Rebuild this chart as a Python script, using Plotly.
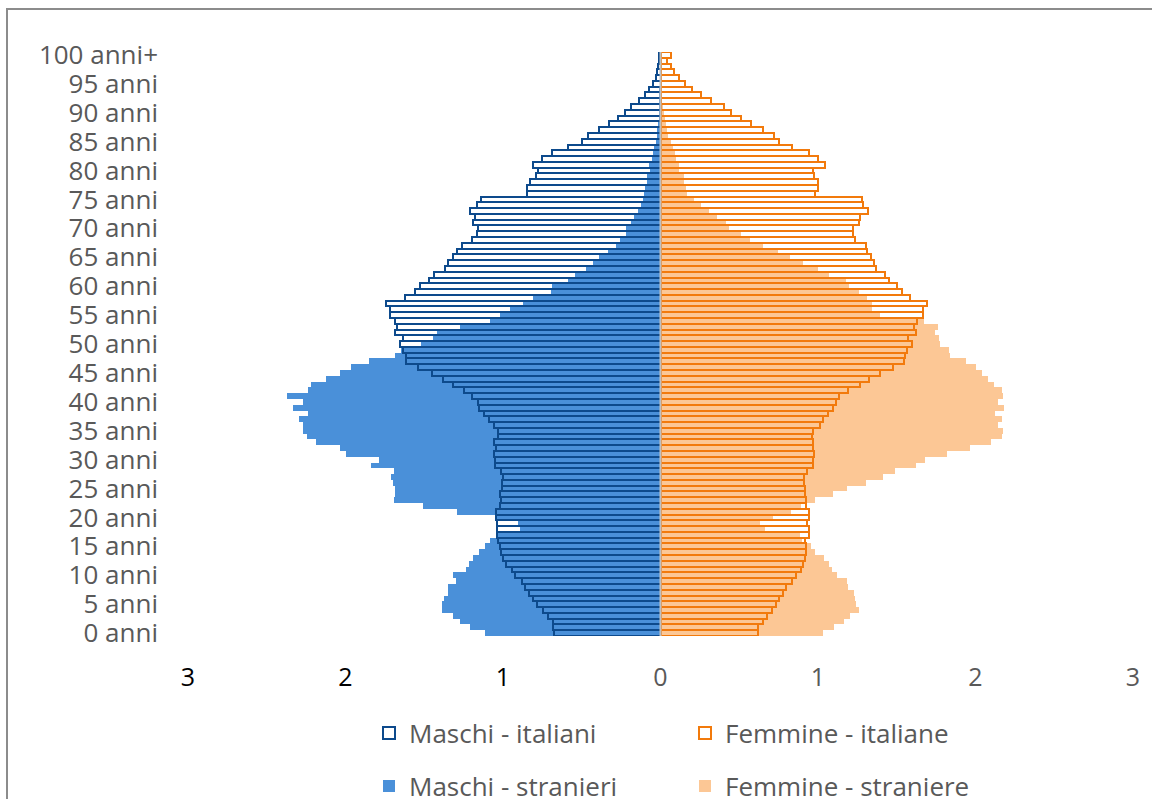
import plotly.graph_objects as go

# Age categories (bottom -> top)
ages = [f"{i} anni" for i in range(100)] + ["100 anni+"]
tick_labels = [ages[i] for i in range(0, 101, 5)]

# Percent of population by single year of age (index 0 = 0 anni ... 100 = 100 anni+)
maschi_italiani = [
    0.674, 0.680, 0.685, 0.712, 0.744, 0.782, 0.807, 0.833, 0.860, 0.880,
    0.924, 0.945, 0.980, 0.998, 1.013, 1.020, 1.030, 1.040, 1.035, 1.035,
    1.045, 1.045, 1.019, 1.015, 1.019, 1.008, 1.004, 0.998, 1.015, 1.050,
    1.050, 1.055, 1.046, 1.057, 1.030, 1.030, 1.060, 1.087, 1.118, 1.150,
    1.160, 1.195, 1.245, 1.320, 1.380, 1.453, 1.537, 1.615, 1.615, 1.635,
    1.655, 1.635, 1.685, 1.675, 1.685, 1.720, 1.720, 1.745, 1.620, 1.560,
    1.527, 1.470, 1.440, 1.370, 1.350, 1.317, 1.290, 1.260, 1.200, 1.167,
    1.157, 1.190, 1.180, 1.210, 1.167, 1.140, 0.850, 0.850, 0.830, 0.790,
    0.780, 0.810, 0.750, 0.690, 0.590, 0.500, 0.460, 0.390, 0.330, 0.270,
    0.225, 0.190, 0.135, 0.100, 0.070, 0.045, 0.030, 0.020, 0.015, 0.010,
    0.010,
]
maschi_stranieri = [
    1.114, 1.210, 1.273, 1.320, 1.385, 1.385, 1.375, 1.350, 1.347, 1.300,
    1.320, 1.237, 1.213, 1.190, 1.150, 1.115, 1.083, 1.040, 0.895, 0.905,
    1.040, 1.290, 1.506, 1.690, 1.685, 1.685, 1.700, 1.710, 1.695, 1.840,
    1.790, 2.000, 2.035, 2.190, 2.245, 2.273, 2.273, 2.293, 2.240, 2.335,
    2.270, 2.370, 2.240, 2.218, 2.123, 2.035, 1.965, 1.848, 1.685, 1.650,
    1.523, 1.446, 1.420, 1.275, 1.080, 1.020, 0.955, 0.870, 0.810, 0.697,
    0.687, 0.590, 0.543, 0.475, 0.430, 0.390, 0.333, 0.280, 0.257, 0.220,
    0.220, 0.190, 0.170, 0.145, 0.125, 0.110, 0.105, 0.100, 0.085, 0.085,
    0.067, 0.070, 0.055, 0.050, 0.040, 0.030, 0.025, 0.020, 0.015, 0.012,
    0.010, 0.008, 0.006, 0.005, 0.004, 0.003, 0.002, 0.002, 0.001, 0.001,
    0.001,
]
femmine_italiane = [
    0.617, 0.617, 0.648, 0.674, 0.706, 0.733, 0.754, 0.780, 0.795, 0.837,
    0.858, 0.890, 0.903, 0.917, 0.922, 0.924, 0.917, 0.943, 0.940, 0.932,
    0.940, 0.945, 0.924, 0.922, 0.920, 0.917, 0.911, 0.911, 0.932, 0.966,
    0.966, 0.975, 0.970, 0.966, 0.960, 0.966, 1.013, 1.030, 1.061, 1.097,
    1.114, 1.135, 1.193, 1.267, 1.322, 1.394, 1.474, 1.546, 1.552, 1.563,
    1.595, 1.574, 1.622, 1.610, 1.626, 1.665, 1.665, 1.690, 1.584, 1.533,
    1.504, 1.453, 1.425, 1.366, 1.357, 1.334, 1.313, 1.302, 1.235, 1.220,
    1.220, 1.260, 1.267, 1.320, 1.284, 1.280, 0.980, 1.000, 1.000, 0.975,
    0.970, 1.045, 1.000, 0.940, 0.835, 0.750, 0.720, 0.650, 0.575, 0.510,
    0.450, 0.405, 0.320, 0.260, 0.200, 0.155, 0.120, 0.085, 0.065, 0.043,
    0.065,
]
femmine_straniere = [
    1.034, 1.104, 1.165, 1.203, 1.260, 1.239, 1.235, 1.230, 1.192, 1.186,
    1.118, 1.087, 1.072, 1.040, 0.980, 0.953, 0.900, 0.886, 0.663, 0.632,
    0.717, 0.829, 0.892, 0.980, 1.093, 1.186, 1.305, 1.410, 1.489, 1.620,
    1.680, 1.817, 1.965, 2.100, 2.170, 2.177, 2.140, 2.166, 2.124, 2.180,
    2.140, 2.177, 2.166, 2.120, 2.080, 2.043, 2.000, 1.940, 1.838, 1.832,
    1.775, 1.768, 1.743, 1.760, 1.673, 1.393, 1.345, 1.345, 1.309, 1.258,
    1.197, 1.178, 1.070, 1.002, 0.907, 0.822, 0.744, 0.653, 0.568, 0.509,
    0.437, 0.416, 0.357, 0.306, 0.260, 0.215, 0.170, 0.160, 0.150, 0.147,
    0.118, 0.120, 0.097, 0.090, 0.077, 0.065, 0.050, 0.040, 0.035, 0.027,
    0.020, 0.015, 0.012, 0.010, 0.008, 0.006, 0.005, 0.004, 0.003, 0.002,
    0.002,
]

x_tickvals = [-3, -2, -1, 0, 1, 2, 3]
x_ticktext = ["3", "2", "1", "0", "1", "2", "3"]

BLUE_DARK = "#0D4A8C"
BLUE_FILL = "#4A90D9"
ORANGE = "#F27A0C"
ORANGE_FILL = "#FCC795"
FONT = "Open Sans"
GRAY_TXT = "#595959"

fig = go.Figure()

fig.add_trace(go.Bar(
    y=ages, x=[-v for v in maschi_stranieri], orientation="h",
    name="Maschi - stranieri", marker=dict(color=BLUE_FILL, line=dict(width=0)),
    legend="legend2",
))
fig.add_trace(go.Bar(
    y=ages, x=femmine_straniere, orientation="h",
    name="Femmine - straniere", marker=dict(color=ORANGE_FILL, line=dict(width=0)),
    legend="legend2",
))
fig.add_trace(go.Bar(
    y=ages, x=[-v for v in maschi_italiani], orientation="h",
    name="Maschi - italiani",
    marker=dict(color="rgba(255,255,255,0)", line=dict(color=BLUE_DARK, width=2)),
    legend="legend",
))
fig.add_trace(go.Bar(
    y=ages, x=femmine_italiane, orientation="h",
    name="Femmine - italiane",
    marker=dict(color="rgba(255,255,255,0)", line=dict(color=ORANGE, width=2)),
    legend="legend",
))

tt = []
for i, t in enumerate(x_ticktext):
    col = "#000000" if x_tickvals[i] < 0 else GRAY_TXT
    tt.append(f"<span style='color:{col}'>{t}</span>")

L, R, T, B = 188, 19, 52, 163
PW = 1152 - L - R
PH = 799 - T - B

def px_x(p):
    return (p - L) / PW

def px_y(p):
    return (799 - B - p) / PH

fig.update_layout(
    width=1152, height=799,
    margin=dict(l=L, r=R, t=T, b=B, pad=0, autoexpand=False),
    paper_bgcolor="white", plot_bgcolor="white",
    barmode="overlay", bargap=0,
    font=dict(family=FONT, color=GRAY_TXT),
    xaxis=dict(
        range=[-3, 3], tickmode="array", tickvals=x_tickvals, ticktext=tt,
        showgrid=False, zeroline=False, showline=False, ticks="",
        tickfont=dict(size=25, family=FONT, color=GRAY_TXT),
        ticklabelstandoff=24, fixedrange=True, automargin=False,
    ),
    yaxis=dict(
        type="category", categoryorder="array", categoryarray=ages,
        tickmode="array", tickvals=tick_labels, ticktext=tick_labels,
        showgrid=False, zeroline=False, showline=False, ticks="",
        tickfont=dict(size=26, family=FONT, color=GRAY_TXT),
        ticklabelstandoff=29, fixedrange=True, automargin=False,
    ),
    legend=dict(
        orientation="h", x=px_x(369), y=px_y(733), xanchor="left", yanchor="middle",
        font=dict(size=26, family=FONT, color=GRAY_TXT),
        entrywidth=271, itemwidth=30, bgcolor="rgba(0,0,0,0)", traceorder="normal",
    ),
    legend2=dict(
        orientation="h", x=px_x(369), y=px_y(786), xanchor="left", yanchor="middle",
        font=dict(size=26, family=FONT, color=GRAY_TXT),
        entrywidth=271, itemwidth=30, bgcolor="rgba(0,0,0,0)", traceorder="normal",
    ),
    shapes=[
        dict(type="line", xref="x", yref="paper", x0=0, x1=0, y0=0, y1=1,
             line=dict(color="#BFBFBF", width=2), layer="above"),
        dict(type="rect", xref="paper", yref="paper",
             x0=px_x(7), x1=px_x(1300), y0=px_y(9), y1=px_y(1000),
             line=dict(color="#8C8C8C", width=2), fillcolor="rgba(0,0,0,0)", layer="above"),
    ],
    showlegend=True,
)

fig.write_html(
    "out.html",
    config={"displayModeBar": False},
    post_script="document.body.style.margin='0';document.body.style.overflow='hidden';",
)
